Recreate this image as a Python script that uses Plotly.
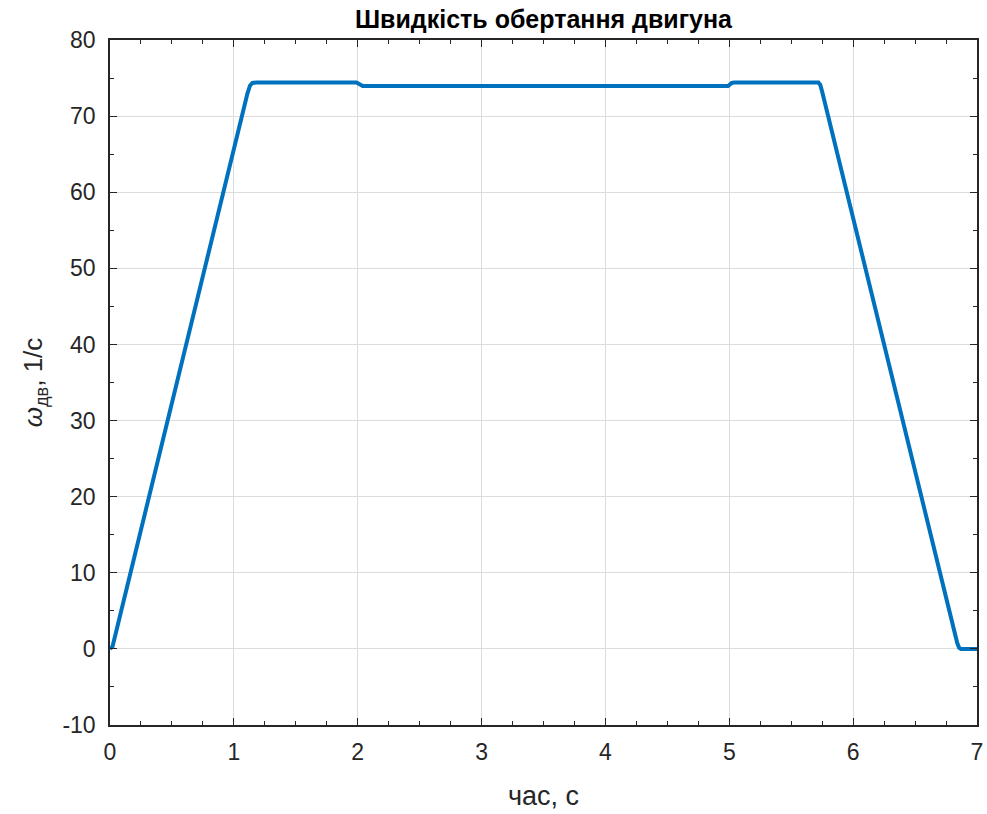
import plotly.graph_objects as go

time_s = [0.0, 0.02, 1.11, 1.13, 1.15, 1.18, 1.99, 2.005, 2.02, 2.04, 4.99, 5.005, 5.02, 5.04, 5.72, 5.735, 5.75, 6.84, 6.855, 6.87, 7.0]
omega = [0.0, 0.3, 73.0, 74.0, 74.35, 74.4, 74.4, 74.25, 74.05, 73.95, 73.95, 74.15, 74.35, 74.4, 74.4, 74.1, 73.2, 0.8, 0.15, 0.0, 0.0]

x_ticks = [0, 1, 2, 3, 4, 5, 6, 7]
y_ticks = [-10, 0, 10, 20, 30, 40, 50, 60, 70, 80]
y_tick_labels = ["-10", "0", "10", "20", "30", "40", "50", "60", "70", "80"]

fig = go.Figure()
fig.add_trace(go.Scatter(x=time_s, y=omega, mode="lines",
                         line=dict(color="#0072BD", width=4),
                         showlegend=False, cliponaxis=True))

font_family = "Liberation Sans, Arial"
axis_common = dict(
    showline=True, linecolor="#262626", linewidth=1.5, mirror="allticks",
    ticks="inside", ticklen=7, tickwidth=1.2, tickcolor="#262626",
    showgrid=True, gridcolor="#DCDCDC", gridwidth=1, zeroline=False,
    automargin=False,
    tickfont=dict(family=font_family, size=23, color="#262626"),
)

fig.update_xaxes(range=[0, 7], tickvals=x_ticks, ticklabelstandoff=6,
                 minor=dict(dtick=0.25, ticks="inside", ticklen=4, tickcolor="#262626", showgrid=False),
                 title=dict(text="час, с", font=dict(family=font_family, size=27, color="#262626"), standoff=22),
                 **axis_common)
fig.update_yaxes(range=[-10, 80], tickvals=y_ticks, ticktext=y_tick_labels, ticklabelstandoff=8,
                 minor=dict(dtick=5, ticks="inside", ticklen=4, tickcolor="#262626", showgrid=False),
                 title=dict(text="<i>ω</i><sub>дв</sub>, 1/с", font=dict(family=font_family, size=26, color="#262626"), standoff=12),
                 **axis_common)

fig.update_layout(
    width=987, height=814,
    margin=dict(l=110, r=10, t=40, b=89),
    plot_bgcolor="white", paper_bgcolor="white",
    title=dict(text="<b>Швидкість обертання двигуна</b>", x=0.5, xanchor="center",
               xref="paper", y=1, yref="paper", yanchor="bottom", pad=dict(b=12),
               font=dict(family=font_family, size=25, color="#000000")),
)

fig.write_html("out.html")
